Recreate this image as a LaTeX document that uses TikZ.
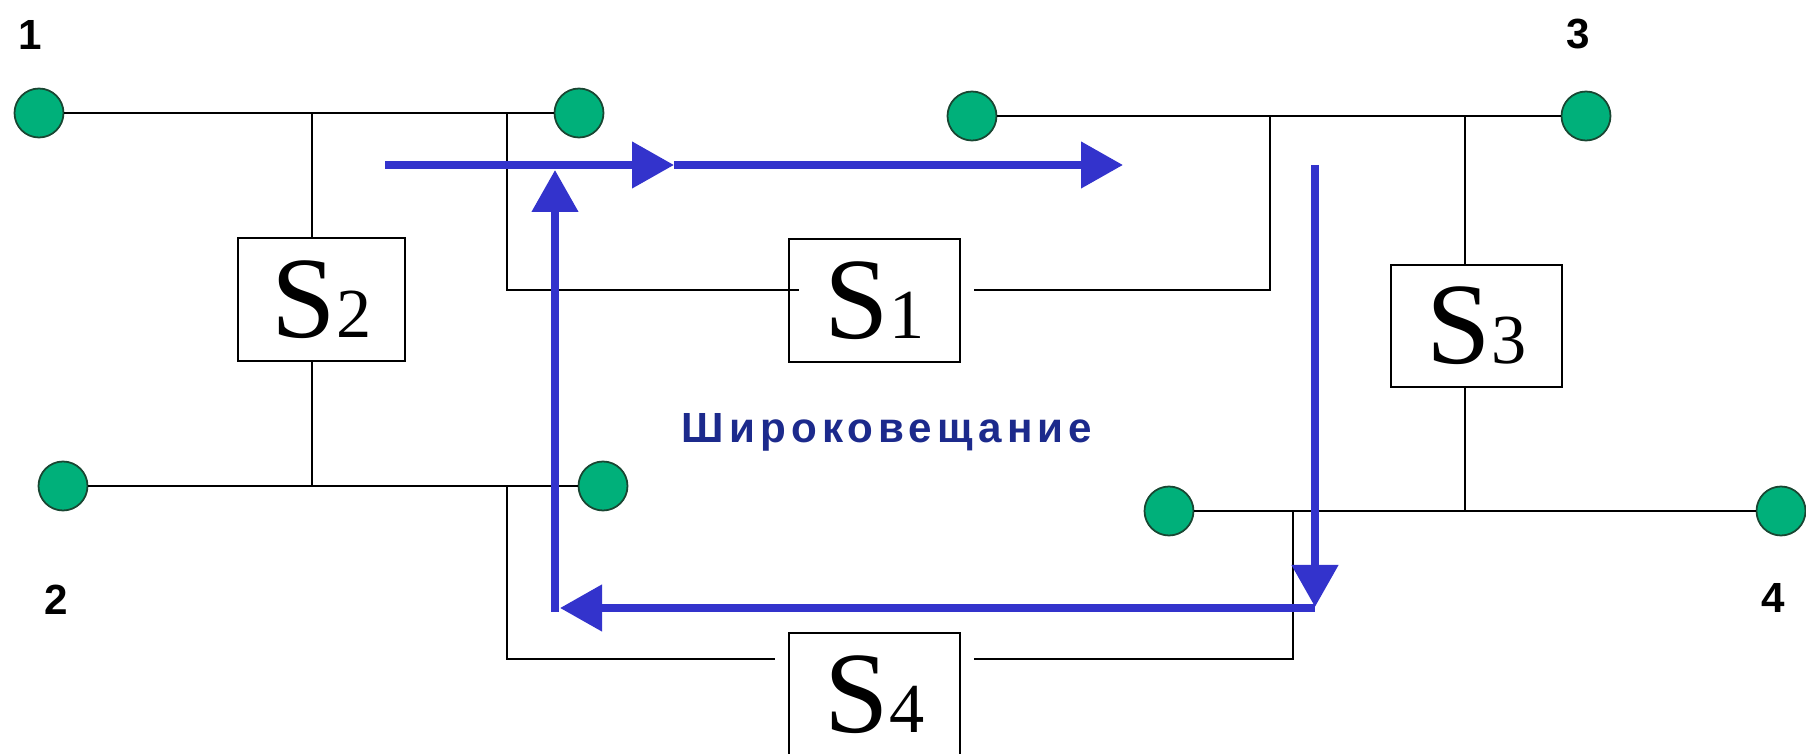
\documentclass[tikz,border=0pt]{standalone}
\usepackage{fontspec}
\setmainfont{Liberation Serif}
\newfontfamily\numfont{Liberation Sans}
\newfontfamily\castfont[LetterSpace=12]{Liberation Sans}
\usetikzlibrary{arrows.meta}

\definecolor{dotgreen}{RGB}{0,176,122}
\definecolor{rimgreen}{RGB}{25,70,50}
\definecolor{flowblue}{RGB}{51,51,204}
\definecolor{textblue}{RGB}{28,42,140}

\newcommand{\bridgename}[1]{{\fontsize{33}{33}\selectfont S}{\fontsize{20}{20}\selectfont #1}}

\begin{document}
\begin{tikzpicture}[
  x=1cm, y=1cm,
  every node/.style={inner sep=1pt},
  host/.style={circle, draw=rimgreen, fill=dotgreen, line width=0.5pt, minimum size=0.49cm, inner sep=0pt},
  bridge/.style={draw, line width=0.7pt, fill=white, minimum width=1.71cm, minimum height=1.23cm, inner sep=0pt},
  num/.style={font=\numfont\bfseries\fontsize{12}{12}\selectfont},
  wire/.style={draw, line width=0.7pt},
  gap/.style={shorten >=1.3mm},
  flow/.style={draw=flowblue, line width=2.2pt, -{Triangle[length=0.42cm, width=0.45cm]}, color=flowblue}]

  \useasboundingbox (0,0) rectangle (18.06,-7.54);
  \clip (0,0) rectangle (18.06,-7.54);

  %% ---------------- stations ----------------
  % vertices
  \node[host] (d1)  at (0.39, -1.13) {};
  \node[host] (d1r) at (5.79, -1.13) {};
  \node[host] (d2)  at (0.63, -4.86) {};
  \node[host] (d2r) at (6.03, -4.86) {};
  \node[host] (d3l) at (9.72, -1.16) {};
  \node[host] (d3)  at (15.86, -1.16) {};
  \node[host] (d4l) at (11.69, -5.11) {};
  \node[host] (d4)  at (17.81, -5.11) {};
  % station numbers
  \node[num] (n1) at (0.30, -0.35) {1};
  \node[num] (n2) at (0.56, -6.00) {2};
  \node[num] (n3) at (15.78, -0.34) {3};
  \node[num] (n4) at (17.73, -5.98) {4};

  %% ---------------- bridges ----------------
  \node[bridge, minimum width=1.67cm] (S2) at (3.215, -2.995) {\bridgename{2}};
  \node[bridge] (S1) at (8.745, -3.005) {\bridgename{1}};
  \node[bridge, minimum height=1.22cm] (S3) at (14.765, -3.26) {\bridgename{3}};
  \node[bridge] (S4) at (8.745, -6.945) {\bridgename{4}};

  % junctions on the segments
  \coordinate (j1a) at (3.12, -1.13);
  \coordinate (j1b) at (5.07, -1.13);
  \coordinate (k1)  at (5.07, -2.90);
  \coordinate (j2a) at (3.12, -4.86);
  \coordinate (j2b) at (5.07, -4.86);
  \coordinate (k2)  at (5.07, -6.59);
  \coordinate (j3a) at (12.70, -1.16);
  \coordinate (k3)  at (12.70, -2.90);
  \coordinate (j3b) at (14.65, -1.16);
  \coordinate (j4a) at (12.93, -5.11);
  \coordinate (k4)  at (12.93, -6.59);
  \coordinate (j4b) at (14.65, -5.11);

  % edges
  \draw[wire] (d1) -- (d1r);
  \draw[wire] (d2) -- (d2r);
  \draw[wire] (d3l) -- (d3);
  \draw[wire] (d4l) -- (d4);
  \draw[wire] (j1a) -- (j1a |- S2.north);
  \draw[wire] (j2a) -- (j2a |- S2.south);
  \draw[wire] (j3b) -- (j3b |- S3.north);
  \draw[wire] (j4b) -- (j4b |- S3.south);
  \draw[wire] (j1b) -- (k1) -- ([xshift=1.1mm]k1 -| S1.west);
  \draw[wire, gap] (j3a) -- (k3) -- (k3 -| S1.east);
  \draw[wire, gap] (j2b) -- (k2) -- (k2 -| S4.west);
  \draw[wire, gap] (j4a) -- (k4) -- (k4 -| S4.east);

  %% ---------------- broadcast path ----------------
  \coordinate (a0) at (3.85, -1.65);
  \coordinate (a1) at (6.74, -1.65);
  \coordinate (a2) at (11.23, -1.65);
  \coordinate (b0) at (13.15, -1.65);
  \coordinate (b1) at (13.15, -6.07);
  \coordinate (c0) at (13.15, -6.08);
  \coordinate (c1) at (5.60, -6.08);
  \coordinate (e0) at (5.55, -6.12);
  \coordinate (e1) at (5.55, -1.70);
  \draw[flow] (a0) -- (a1);
  \draw[flow] (a1) -- (a2);
  \draw[flow] (b0) -- (b1);
  \draw[flow] (c0) -- (c1);
  \draw[flow] (e0) -- (e1);

  % caption
  \node[anchor=base, text=textblue, font=\castfont\bfseries\fontsize{12}{12}\selectfont] (cast) at (8.87, -4.43) {Широковещание};

\end{tikzpicture}
\end{document}
